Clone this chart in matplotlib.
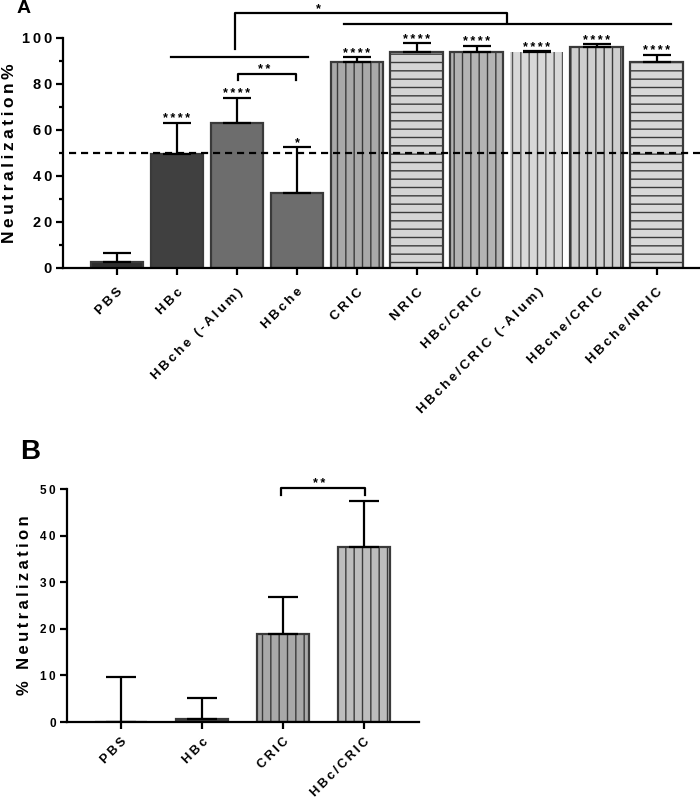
import numpy as np
import matplotlib
matplotlib.use('Agg')
import matplotlib.pyplot as plt

plt.rcParams['font.family'] = ['Liberation Sans', 'DejaVu Sans']
plt.rcParams['font.weight'] = 'bold'
plt.rcParams['hatch.linewidth'] = 1.0

# panel A data
groupsA = ['PBS', 'HBc', 'HBche (-Alum)', 'HBche', 'CRIC', 'NRIC', 'HBc/CRIC',
           'HBche/CRIC (-Alum)', 'HBche/CRIC', 'HBche/NRIC']
meanA = [2.6, 49.6, 63.0, 32.6, 89.3, 94.0, 94.0, 93.6, 96.0, 89.6]
topA = [6.5, 63.0, 74.0, 52.5, 91.5, 97.5, 96.6, 94.2, 97.2, 92.6]
starsA = ['', '****', '****', '*', '****', '****', '****', '****', '****', '****']
colorsA = ['#2e2e2e', '#404040', '#6d6d6d', '#6d6d6d', '#a9a9a9', '#d4d4d4',
           '#b3b3b3', '#d8d8d8', '#cfcfcf', '#d8d8d8']
hatchA = ['', '', '', '', '||', '--', '||', '||', '||', '--']

# panel B data
groupsB = ['PBS', 'HBc', 'CRIC', 'HBc/CRIC']
meanB = [0.1, 0.7, 18.8, 37.6]
topB = [9.7, 5.1, 26.8, 47.5]
colorsB = ['#2e2e2e', '#404040', '#a9a9a9', '#bdbdbd']
hatchB = ['', '', '||', '||']

B = dict(fontweight='bold')


def sp(s):
    return '\u2009'.join(s)


fig = plt.figure(figsize=(7, 8.06), dpi=100)

# ---------- A ----------
ax = fig.add_axes([0.09, 0.6675, 0.91, 0.2857])
x = np.arange(len(groupsA))
for i in range(len(groupsA)):
    lw = 0 if i == 7 else 1.6
    ec = '#555555' if i == 7 else '#3a3a3a'
    ax.bar(x[i], meanA[i], width=0.88, color=colorsA[i], edgecolor=ec,
           linewidth=lw, hatch=hatchA[i], zorder=2)
errA = np.array(topA) - np.array(meanA)
ax.errorbar(x, meanA, yerr=[np.zeros(len(x)), errA], fmt='none', ecolor='black',
            elinewidth=1.6, capsize=10, capthick=1.6, zorder=3)
for i, s in enumerate(starsA):
    if s:
        ax.text(x[i], topA[i] + 0.2, sp(s), ha='center', va='baseline',
                fontsize=9, **B)
ax.axhline(50, xmin=0.01, color='black', ls=(0, (3.2, 2.2)), lw=1.6, zorder=4)

ax.set_xlim(-0.9, 9.72)
ax.set_ylim(0, 100)
ax.set_yticks(range(0, 101, 20))
ax.set_yticks(range(10, 100, 20), minor=True)
ax.set_yticklabels([sp(str(v)) for v in range(0, 101, 20)], fontsize=10.5, **B)
ax.set_xticks(x)
ax.set_xticklabels([sp(g) for g in groupsA], rotation=45, ha='right',
                   rotation_mode='anchor', fontsize=9.5, **B)
ax.set_ylabel(sp('Neutralization%'), fontsize=12.5, labelpad=3, **B)
for s in ['top', 'right']:
    ax.spines[s].set_visible(False)
for s in ['left', 'bottom']:
    ax.spines[s].set_linewidth(1.6)
ax.tick_params(width=1.6, length=5, pad=3)
ax.tick_params(which='minor', width=1.6, length=3)
ax.tick_params(axis='x', pad=8)

# brackets
kw = dict(color='black', lw=1.6, clip_on=False)
ax.plot([0.9, 3.18], [91.6, 91.6], **kw)
ax.plot([1.97, 1.97, 6.5, 6.5], [95, 110.7, 110.7, 106.8], **kw)
ax.plot([3.78, 9.23], [105.8, 105.8], **kw)
ax.text(3.35, 110.9, '*', ha='center', va='baseline', fontsize=9, **B)
ax.plot([2.01, 2.01, 2.98, 2.98], [81.5, 84.4, 84.4, 81.5], **kw)
ax.text(2.45, 84.8, sp('**'), ha='center', va='baseline', fontsize=9, **B)

fig.text(0.024, 0.989, 'A', fontsize=14, va='center', **B)

# ---------- B ----------
bx = fig.add_axes([0.0957, 0.1042, 0.5029, 0.2891])
xb = np.arange(len(groupsB))
for i in range(len(groupsB)):
    bx.bar(xb[i], meanB[i], width=0.64, color=colorsB[i], edgecolor='#3a3a3a',
           linewidth=1.6, hatch=hatchB[i], zorder=2)
errB = np.array(topB) - np.array(meanB)
bx.errorbar(xb, meanB, yerr=[np.zeros(len(xb)), errB], fmt='none', ecolor='black',
            elinewidth=1.6, capsize=11, capthick=1.6, zorder=3)
bx.set_xlim(-0.667, 3.68)
bx.set_ylim(0, 50)
bx.set_yticks(range(0, 51, 10))
bx.set_yticklabels([sp(str(v)) for v in range(0, 51, 10)], fontsize=8.5, **B)
bx.set_xticks(xb)
bx.set_xticklabels([sp(g) for g in groupsB], rotation=45, ha='right',
                   rotation_mode='anchor', fontsize=9.2, **B)
bx.set_ylabel(sp('% Neutralization'), fontsize=12, labelpad=6, **B)
for s in ['top', 'right']:
    bx.spines[s].set_visible(False)
for s in ['left', 'bottom']:
    bx.spines[s].set_linewidth(1.6)
bx.tick_params(width=1.6, length=5, pad=3)
bx.tick_params(axis='x', pad=5)
bx.plot([1.98, 1.98, 3.01, 3.01], [48.7, 50.2, 50.2, 48.7], color='black',
        lw=1.6, clip_on=False)
bx.text(2.45, 50.4, sp('**'), ha='center', va='baseline', fontsize=9, **B)

fig.text(0.029, 0.439, 'B', fontsize=20, va='center', **B)

fig.savefig('out.png', dpi=100)
